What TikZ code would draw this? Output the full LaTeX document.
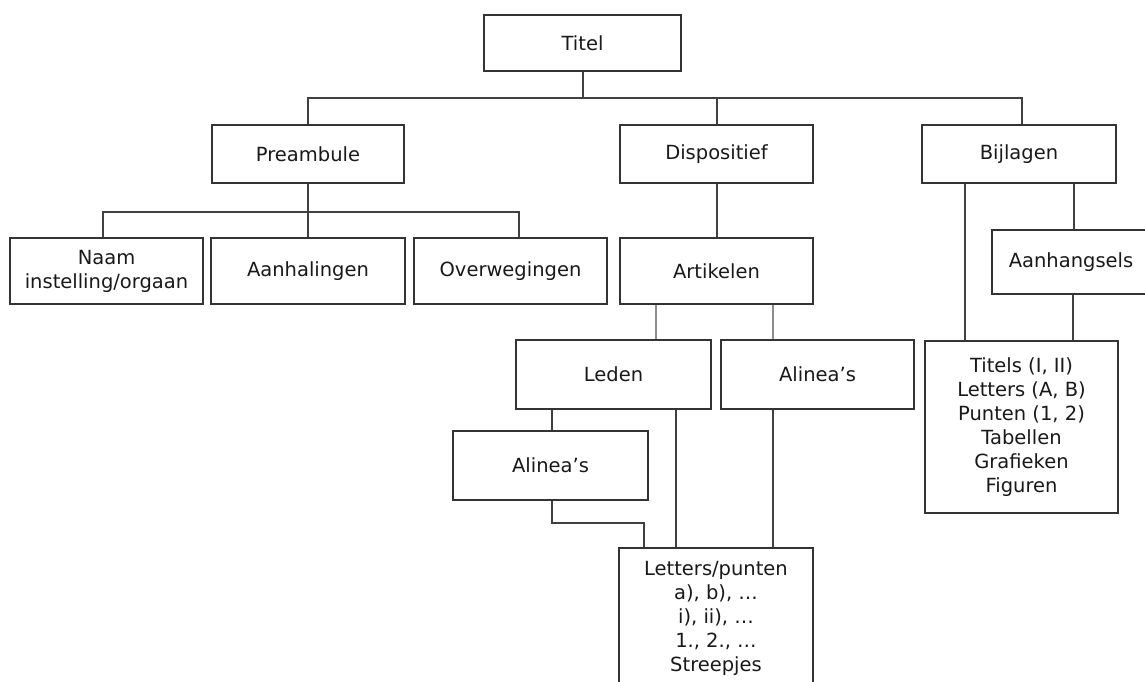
\documentclass[tikz,border=0pt]{standalone}
\usepackage{fontspec}
\setmainfont{DejaVu Sans}
\begin{document}
\begin{tikzpicture}[x=1pt,y=-1pt,
  box/.style={draw=black!80,line width=2pt,rectangle,inner sep=0pt,align=center,
    font=\fontsize{19.5}{24}\selectfont,text=black!90},
  link/.style={draw=black!75,line width=2pt},
  thin/.style={draw=black!45,line width=1.3pt}]
\useasboundingbox (0,0) rectangle (1145,681);
\clip (0,0) rectangle (1145,681);
\fill[white] (0,0) rectangle (1145,681);
% nodes
\node[box,minimum width=197pt,minimum height=56pt] (titel) at (582.5,43) {Titel};
\node[box,minimum width=192pt,minimum height=58pt] (pre) at (308,154) {Preambule};
\node[box,minimum width=193pt,minimum height=58pt] (dis) at (716.5,154) {Dispositief};
\node[box,minimum width=194pt,minimum height=58pt] (bij) at (1019,154) {Bijlagen};
\node[box,minimum width=193pt,minimum height=66pt] (naam) at (106.5,271) {Naam\\instelling/orgaan};
\node[box,minimum width=194pt,minimum height=66pt] (aan) at (308,271) {Aanhalingen};
\node[box,minimum width=193pt,minimum height=66pt] (over) at (510.5,271) {Overwegingen};
\node[box,minimum width=193pt,minimum height=66pt] (art) at (716.5,271) {Artikelen};
\node[box,minimum width=158pt,minimum height=64pt] (aanh) at (1071,262) {Aanhangsels};
\node[box,minimum width=195pt,minimum height=69pt] (leden) at (613.5,374.5) {Leden};
\node[box,minimum width=193pt,minimum height=69pt] (alin1) at (817.5,374.5) {Alinea's};
\node[box,minimum width=195pt,minimum height=69pt] (alin2) at (550.5,465.5) {Alinea's};
\node[box,minimum width=193pt,minimum height=172pt] (titels) at (1021.5,427)
  {Titels (I, II)\\Letters (A, B)\\Punten (1, 2)\\Tabellen\\Grafieken\\Figuren};
\node[box,minimum width=194pt,minimum height=160pt,anchor=north,inner sep=0pt] (letters) at (716,547) {};
\node[font=\fontsize{19.5}{24}\selectfont,text=black!90,align=center,anchor=north] (lettxt) at (716,558)
  {Letters/punten\\a), b), \dots\\i), ii), \dots\\1., 2., \dots\\Streepjes};
% connectors
\coordinate (busA) at (0,98);
\coordinate (busB) at (0,212);
\coordinate (busC) at (0,523);
\draw[link] (titel.south) -- (titel.south |- busA);
\draw[link] (pre.north) -- (pre.north |- busA) -| ([xshift=3pt]bij.north);
\draw[link] (dis.north) -- (dis.north |- busA);
\draw[link] ([xshift=-3.5pt]naam.north) |- (pre.south |- busB) -| ([xshift=8.5pt]over.north);
\draw[link] (pre.south) -- (aan.north);
\draw[link] (dis.south) -- (art.north);
\draw[thin] ([xshift=-60.5pt]art.south) -- ([xshift=-60.5pt]art.south |- leden.north);
\draw[thin] ([xshift=56.5pt]art.south) -- ([xshift=56.5pt]art.south |- alin1.north);
\draw[link] ([xshift=-54pt]bij.south) -- ([xshift=-54pt]bij.south |- titels.north);
\draw[link] ([xshift=55pt]bij.south) -- ([xshift=55pt]bij.south |- aanh.north);
\draw[link] ([xshift=2pt]aanh.south) -- ([xshift=2pt]aanh.south |- titels.north);
\draw[link] ([xshift=-61.5pt]leden.south) -- ([xshift=-61.5pt]leden.south |- alin2.north);
\draw[link] ([xshift=1.5pt]alin2.south) |- ([xshift=-72pt]letters.north |- busC) -- ([xshift=-72pt]letters.north);
\draw[link] ([xshift=62.5pt]leden.south) -- ([xshift=62.5pt]leden.south |- letters.north);
\draw[link] ([xshift=-44.5pt]alin1.south) -- ([xshift=-44.5pt]alin1.south |- letters.north);
\end{tikzpicture}
\end{document}
